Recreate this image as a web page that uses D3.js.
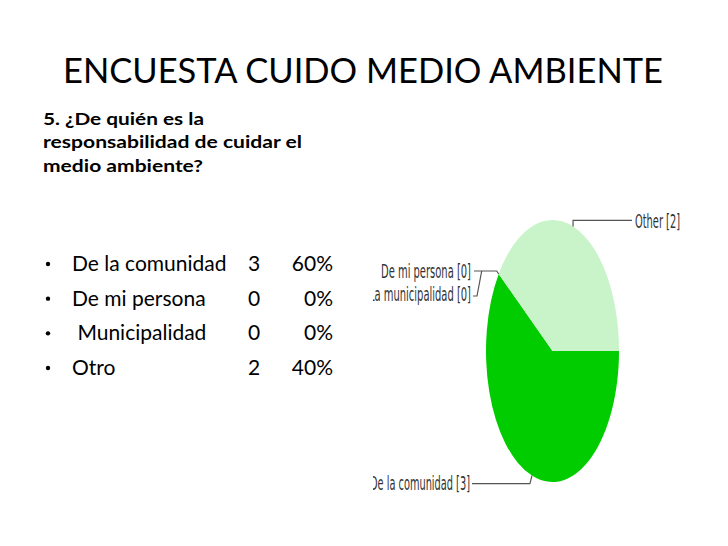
<!DOCTYPE html>
<html>
<head>
<meta charset="utf-8">
<script src="https://cdn.jsdelivr.net/npm/d3@7"></script>
<style>
  body { margin: 0; background: #fff; }
  svg { display: block; }
</style>
</head>
<body>
<div id="slide"></div>
<script>
// survey answers
var categories = ["De la comunidad", "De mi persona", " Municipalidad", "Otro"];
var counts = [3, 0, 0, 2];
var percents = ["60%", "0%", "0%", "40%"];
var pieLabels = ["De la comunidad [3]", "De mi persona [0]", "La municipalidad [0]", "Other [2]"];

var width = 728, height = 546;

var svg = d3.select("#slide")
            .append("svg")
            .attr("width", width)
            .attr("height", height);

var sans = "Lato, 'Open Sans', 'Liberation Sans', sans-serif";

// title
svg.append("text")
   .attr("x", 63)
   .attr("y", 83)
   .attr("font-family", sans)
   .attr("font-size", 35)
   .attr("textLength", 600)
   .attr("lengthAdjust", "spacingAndGlyphs")
   .attr("fill", "#000")
   .text("ENCUESTA CUIDO MEDIO AMBIENTE");

// question
var question = ["5. ¿De quién es la", "responsabilidad de cuidar el", "medio ambiente?"];
var qWidths = [161, 259, 160];
svg.append("g").selectAll("text")
   .data(question)
   .enter().append("text")
   .attr("x", 43)
   .attr("y", function(d, i) { return 125 + i * 23.3; })
   .attr("font-family", sans)
   .attr("font-weight", "bold")
   .attr("font-size", 17)
   .attr("textLength", function(d, i) { return qWidths[i]; })
   .attr("lengthAdjust", "spacingAndGlyphs")
   .attr("fill", "#000")
   .text(function(d) { return d; });

// bullet list
var rowY = d3.scalePoint().domain(d3.range(categories.length)).range([271, 375]);
var rows = svg.append("g")
              .selectAll("g")
              .data(categories)
              .enter().append("g")
              .attr("transform", function(d, i) { return "translate(0," + rowY(i) + ")"; })
              .attr("font-family", sans)
              .attr("font-size", 21)
              .attr("fill", "#000");

rows.append("circle").attr("cx", 48).attr("cy", -7).attr("r", 2.2);
rows.append("text")
    .attr("x", 72)
    .style("white-space", "pre")
    .text(function(d) { return d; });
rows.append("text")
    .attr("x", 248)
    .text(function(d, i) { return counts[i]; });
rows.append("text")
    .attr("x", 333)
    .attr("text-anchor", "end")
    .text(function(d, i) { return percents[i]; });

// pie (drawn squashed into an ellipse like the original image)
var cx = 552.5, cy = 351, rx = 66.5, ry = 131;
var colors = ["#00cc00", "#00cc00", "#00cc00", "#c9f3c9"];

var pie = d3.pie()
            .sort(null)
            .startAngle(Math.PI / 2)
            .endAngle(Math.PI / 2 + 2 * Math.PI);
var arcs = pie(counts);
var arc = d3.arc().innerRadius(0).outerRadius(rx);

svg.append("g")
   .attr("transform", "translate(" + cx + "," + cy + ") scale(1," + (ry / rx) + ")")
   .selectAll("path")
   .data(arcs)
   .enter().append("path")
   .attr("d", arc)
   .attr("fill", function(d, i) { return colors[i]; });

// point on ellipse edge at a slice's mid angle
function edge(d) {
  var a = (d.startAngle + d.endAngle) / 2;
  return [cx + Math.sin(a) * rx, cy - Math.cos(a) * ry];
}

var clip = svg.append("clipPath").attr("id", "lblclip");
clip.append("rect").attr("x", 373).attr("y", 0).attr("width", width).attr("height", height);

var labels = svg.append("g").attr("clip-path", "url(#lblclip)");
var labelFont = "'Liberation Sans Narrow', 'DejaVu Sans Condensed', 'Liberation Sans', sans-serif";
var lineColor = "#555";

function label(txt, x, y, anchor, len) {
  labels.append("text")
        .attr("x", x)
        .attr("y", y)
        .attr("text-anchor", anchor)
        .attr("dominant-baseline", "central")
        .attr("font-family", labelFont)
        .attr("font-size", 19.5)
        .attr("textLength", len)
        .attr("lengthAdjust", "spacingAndGlyphs")
        .attr("fill", "#333")
        .text(txt);
}

var line = d3.line();
function leader(pts) {
  svg.append("path")
     .attr("d", line(pts))
     .attr("fill", "none")
     .attr("stroke", lineColor)
     .attr("stroke-width", 1.2);
}

// Other
var pO = edge(arcs[3]);
leader([pO, [pO[0], pO[1] - 6], [632, pO[1] - 6]]);
label(pieLabels[3], 635, pO[1] - 5, "start", 45);

// De la comunidad
var pC = edge(arcs[0]);
leader([pC, [pC[0] - 2, pC[1] + 8], [472, pC[1] + 8]]);
label(pieLabels[0], 470, pC[1] + 8, "end", 100);

// zero slices
var pZ = edge(arcs[1]);
leader([pZ, [pZ[0] - 2, pZ[1] - 3], [474, pZ[1] - 3]]);
label(pieLabels[1], 471, pZ[1] - 3, "end", 90);
leader([[pZ[0] - 17, pZ[1] - 3], [477, pZ[1] + 22], [473, pZ[1] + 22]]);
label(pieLabels[2], 471, pZ[1] + 20, "end", 102);
</script>
</body>
</html>
